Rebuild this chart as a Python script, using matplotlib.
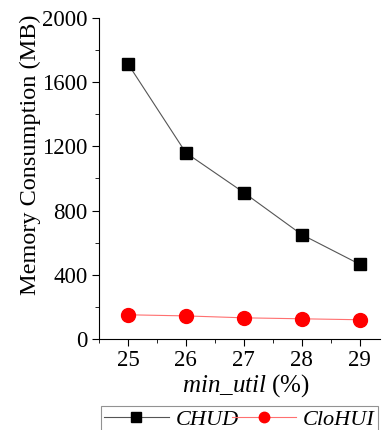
import matplotlib
matplotlib.use("Agg")
import matplotlib.pyplot as plt
from matplotlib.ticker import MultipleLocator

plt.rcParams['font.family'] = ['Liberation Serif', 'DejaVu Serif']
plt.rcParams['mathtext.fontset'] = 'custom'
plt.rcParams['mathtext.it'] = 'Liberation Serif:italic'
plt.rcParams['mathtext.rm'] = 'Liberation Serif'

min_util = [25, 26, 27, 28, 29]
chud = [1715, 1160, 912, 650, 465]
clohui = [150, 143, 131, 125, 119]

fig = plt.figure(figsize=(3.85, 4.3), dpi=100)
ax = fig.add_axes([0.257, 0.212, 0.73, 0.746])

ax.plot(min_util, chud, color='#555555', lw=0.8, marker='s', ms=9,
        mfc='black', mec='black', label='CHUD')
ax.plot(min_util, clohui, color='#ff7070', lw=0.8, marker='o', ms=10,
        mfc='red', mec='red', label='CloHUI')

ax.set_xlim(24.5, 29.35)
ax.set_ylim(0, 2000)
ax.set_xticks(min_util)
ax.set_yticks([0, 400, 800, 1200, 1600, 2000])
ax.xaxis.set_minor_locator(MultipleLocator(0.5))
ax.yaxis.set_minor_locator(MultipleLocator(200))
ax.tick_params(which='both', direction='out', labelsize=16.5)
ax.tick_params(which='major', length=5, pad=3)
ax.tick_params(which='minor', length=3)
for s in ['top', 'right']:
    ax.spines[s].set_visible(False)

ax.set_ylabel('Memory Consumption (MB)', fontsize=17.5)
ax.yaxis.set_label_coords(-0.205, 0.575)
ax.set_xlabel(r'$\mathit{min\_util}$ (%)', fontsize=18)
ax.xaxis.set_label_coords(0.523, -0.105)

leg = fig.legend(loc='lower left', bbox_to_anchor=(0.262, -0.008, 0.72, 0.075),
                 mode='expand', ncol=2, frameon=True, fancybox=False,
                 prop={'style': 'italic', 'size': 16}, handlelength=2.9,
                 handletextpad=0.3, columnspacing=0.1, borderpad=0.15,
                 borderaxespad=0, markerscale=0.75)
leg.get_frame().set_edgecolor('#777777')
leg.get_frame().set_linewidth(0.8)

fig.savefig('out.png', dpi=100)
